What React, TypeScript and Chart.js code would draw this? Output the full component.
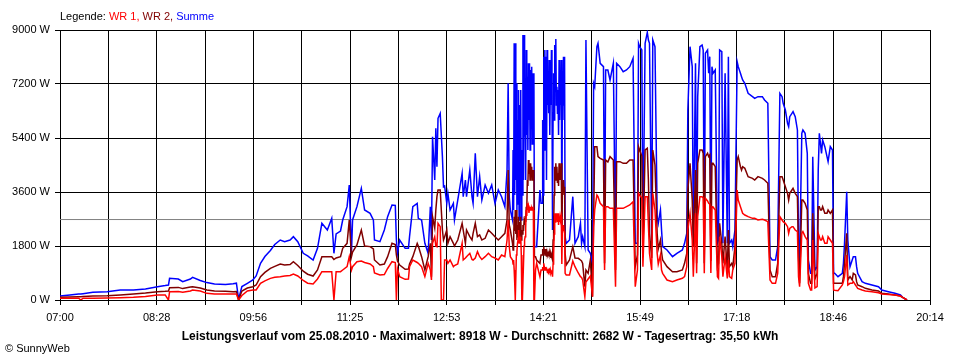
import React, { useEffect, useRef } from 'react';
import { Chart, registerables } from 'chart.js';

Chart.register(...registerables);

// minutes after 07:00
const minutes = [
  0, 9, 17, 19, 21, 30, 43, 55, 67, 78, 89, 96, 99, 100, 108, 112, 119, 121, 128, 134, 141, 151, 158, 161, 163, 166, 171, 176,
  179, 183, 187, 192, 196, 201, 205, 210, 213, 217, 222, 226, 231, 235, 239, 244, 248, 250, 252, 256, 258, 262, 264, 266, 267, 271, 275, 278, 283, 286, 287, 292, 296, 299, 303, 306, 307, 308, 310,
  315, 318, 319, 322, 326, 327, 330, 333, 336, 338, 339, 340, 342, 343, 344, 345, 347, 348, 349, 350, 351, 353, 354, 356, 359, 360, 363, 367, 368, 370, 371, 374, 376, 377, 379, 381, 383, 385, 388, 391, 394, 397, 400, 403, 406, 408, 409, 410, 411,
  413, 413.5, 414, 414.5, 415, 415.5, 416, 416.5, 417, 417.5, 418, 418.5, 419, 419.5, 420, 420.5, 421, 421.5, 422, 422.5, 423, 423.5, 424, 424.5, 425, 425.5, 426, 426.5, 427, 427.5, 428, 428.5, 429, 429.5, 430, 430.5, 431, 431.5, 432, 432.5, 433, 434, 435,
  438, 439, 440, 440.5, 441, 441.5, 442, 442.5, 443, 443.5, 444, 444.5, 445, 445.5, 446, 446.5, 447, 447.5, 448, 448.5, 449, 449.5, 450, 450.5, 451, 451.5, 452, 452.5, 453, 453.5, 454, 454.5, 455, 455.5, 456, 456.5, 457, 457.5, 458, 458.5, 459, 459.5, 460, 460.5, 461, 462,
  465, 468, 470, 473, 475, 476, 477, 479, 480, 482, 484, 486, 487, 488, 490, 491, 493, 496, 497, 498, 500, 502, 505, 507, 508, 511, 514, 517, 520, 523, 525, 527, 528, 529, 531, 532, 534, 536, 537, 538, 540, 541, 543, 545, 546, 548, 549, 550, 554, 559, 563, 568, 570, 572, 573, 575,
  577, 578, 580, 581, 582, 584, 586, 587, 588, 589, 591, 592, 593, 594, 595, 596, 598,
  600, 601, 602, 604, 605, 607, 609, 610, 611, 613, 614, 616, 618, 619, 621, 622, 623, 625, 628, 632, 634, 637, 641, 643, 646, 648, 650, 653, 655, 657, 659, 660, 662, 664, 665, 666, 668, 669, 671, 673, 674, 675, 677, 678, 680, 682, 683, 685, 686, 687, 689, 691, 692, 693, 694, 695, 696, 698, 700, 701, 703, 705, 706, 707, 710, 714, 715, 716, 718, 719, 721, 723, 724, 726, 727, 728, 732, 735, 741, 747, 750, 756, 762, 767, 769, 773,
];

const summe = [
  133, 170, 200, 200, 210, 256, 278, 333, 333, 370, 444, 480, 500, 722, 700, 611, 700, 756, 650, 580, 530, 520, 540, 560, 30, 450, 556, 667,
  800, 1222, 1450, 1650, 1850, 2000, 1944, 2000, 2111, 1944, 1556, 1470, 1333, 1722, 2556, 2333, 2722, 1556, 2200, 2300, 2667, 3111, 3833, 1556, 2667, 3111, 3722, 3000, 2889, 2667, 2000, 1944, 2333, 2778, 3167, 3150, 2000, 1556, 2000,
  1722, 1722, 2111, 3111, 3222, 2722, 2667, 1889, 1556, 3111, 2000, 5444, 4000, 5722, 4444, 6056, 6222, 5500, 4778, 3778, 3800, 3222, 3556, 3000, 3222, 2667, 3333, 4222, 3444, 4000, 3444, 4333, 3444, 3222, 4889, 3444, 4111, 3333, 3833, 3556, 3833, 3222, 3667, 3444, 3111, 4333, 7222, 3444, 3000,
  2667, 5000, 3000, 8556, 3500, 8556, 4000, 7222, 3000, 6000, 3200, 7000, 2667, 6500, 3500, 7000, 2667, 5000, 3500, 8833, 4000, 8833, 5444, 6000, 4000, 8333, 5500, 7444, 5000, 7889, 6000, 7889, 5000, 7667, 6500, 7778, 5200, 7556, 6000, 7556, 1778, 1778, 1778,
  3667, 3222, 3222, 6000, 3500, 8111, 5000, 8333, 6000, 8111, 4000, 8333, 6500, 7222, 6222, 8000, 5500, 7222, 6500, 8333, 7000, 2333, 6222, 7556, 6000, 8500, 7000, 8700, 6500, 7111, 6200, 7000, 5500, 8000, 6000, 7500, 6500, 8000, 2333, 7000, 6000, 8111, 6500, 8111, 2111, 1889,
  2000, 3444, 1889, 2111, 2556, 1889, 2111, 1778, 8667, 1667, 1556, 1222, 7222, 7111, 8444, 8556, 7889, 7778, 1889, 7667, 7667, 7333, 7889, 1778, 7889, 7778, 7611, 7667, 7778, 8056, 1889, 1889, 8556, 8444, 8333, 1889, 8556, 8918, 8667, 8556, 1889, 8667, 8444, 2778, 2556, 3000, 2333, 1778, 1667, 1444, 1556, 1667, 1889, 2222, 6333, 8444,
  7778, 1889, 7889, 1889, 6778, 8444, 8500, 8333, 1889, 8222, 8333, 7556, 8111, 2000, 7778, 7556, 7667,
  1889, 2000, 8333, 8278, 1889, 7556, 1889, 8111, 1889, 2000, 1778, 2333, 7944, 7778, 7556, 7444, 7333, 7222, 6889, 6778, 6722, 6778, 6778, 6667, 6556, 1444, 1333, 1333, 1778, 6889, 6778, 6556, 6333, 5889, 5778, 6111, 6222, 6278, 6111, 5667, 1889, 1222, 5556, 5667, 5556, 4889, 1333, 889, 889, 4778, 1000, 1111, 4333, 5556, 5222, 4889, 5333, 5111, 4778, 4611, 5111, 5000, 889, 889, 778, 889, 1222, 1889, 3611, 2000, 1111, 1333, 1444, 1444, 1111, 889, 611, 556, 500, 444, 333, 278, 222, 167, 89, 0,
];

const wr2 = [
  89, 100, 110, 110, 115, 130, 140, 170, 200, 230, 278, 290, 300, 411, 420, 380, 430, 444, 400, 333, 300, 290, 278, 280, 0, 300, 400, 444,
  500, 778, 920, 1056, 1120, 1200, 1167, 1180, 1278, 1150, 960, 860, 800, 1000, 1444, 1440, 1444, 1350, 1400, 1444, 1722, 1889, 2667, 1444, 1600, 1833, 2333, 1800, 1780, 1700, 1333, 1167, 1200, 1444, 1889, 1850, 1500, 1300, 1167,
  1022, 1030, 1200, 1444, 1889, 1800, 1444, 1000, 1444, 1889, 778, 2778, 2400, 3000, 3444, 3667, 3667, 3000, 2333, 2000, 2100, 2333, 1889, 2111, 1889, 1800, 2000, 2556, 2333, 1889, 2333, 2111, 2000, 2222, 2556, 2111, 2167, 2000, 2056, 2333, 2222, 2111, 2000, 2111, 2222, 2667, 4333, 2500, 2333,
  1889, 1667, 2000, 2778, 2300, 3000, 2200, 3000, 2000, 2500, 2111, 2778, 2000, 2600, 2200, 2778, 2000, 2333, 2200, 2500, 2300, 2600, 2500, 2800, 2600, 3111, 3000, 4000, 3800, 4667, 4200, 4556, 4000, 4556, 4200, 4444, 4000, 4333, 4200, 4333, 1444, 1444, 1333,
  1222, 1500, 1500, 1700, 1500, 1778, 1600, 1700, 1500, 1700, 1444, 1600, 1500, 1556, 1500, 1600, 1450, 1556, 1400, 1500, 1400, 1333, 2000, 2500, 3500, 4444, 4000, 4556, 4000, 4444, 3900, 4222, 3800, 4556, 4000, 4400, 4000, 4556, 1800, 3800, 3500, 4000, 3600, 3778, 1556, 1167,
  1333, 1778, 1400, 1389, 1333, 1300, 1222, 444, 1000, 889, 1333, 111, 2667, 5111, 5111, 4778, 4722, 4667, 1222, 4667, 4600, 4778, 4667, 1000, 4611, 4611, 4556, 4556, 4667, 4667, 1111, 1500, 5111, 5000, 4800, 1556, 5000, 5056, 4000, 2222, 1400, 5000, 4500, 2222, 1700, 2000, 1600, 1333, 1111, 944, 944, 1000, 1222, 1556, 3667, 4556,
  3333, 1778, 4333, 1222, 4556, 5000, 5000, 4889, 1222, 4778, 4889, 4778, 4833, 1300, 4556, 4556, 4444,
  1111, 1222, 2556, 1889, 1222, 2111, 1000, 2333, 1111, 1222, 1111, 1778, 4667, 4778, 4444, 4333, 4444, 4389, 4111, 4056, 4000, 4111, 4056, 4000, 3889, 1000, 778, 778, 1222, 4111, 4111, 4000, 3778, 3556, 3333, 3556, 3667, 3722, 3556, 3444, 1444, 556, 3333, 3333, 3222, 3000, 889, 556, 556, 2889, 700, 889, 3111, 3111, 3000, 3000, 3111, 2889, 2889, 3000, 2889, 3000, 556, 556, 556, 556, 778, 1222, 2222, 667, 778, 667, 889, 833, 611, 500, 444, 389, 333, 300, 222, 200, 167, 133, 89, 0,
];

const wr1 = [
  56, 60, 60, 0, 60, 60, 65, 78, 89, 120, 167, 170, 0, 278, 280, 260, 300, 333, 300, 222, 200, 200, 200, 200, 0, 150, 300, 333,
  333, 556, 640, 722, 760, 778, 800, 820, 867, 800, 650, 560, 533, 700, 944, 940, 944, 0, 944, 944, 1000, 1111, 1444, 1000, 1111, 1278, 1300, 1250, 1200, 1111, 900, 833, 850, 1050, 1278, 1250, 0, 1050, 778,
  689, 700, 1111, 1333, 1250, 1222, 1111, 778, 1222, 1000, 667, 1889, 2111, 1800, 1778, 2556, 2444, 0, 0, 0, 1333, 1333, 1222, 1333, 1111, 1150, 1200, 1889, 1333, 1400, 1444, 1556, 1350, 1333, 1400, 1611, 1444, 1350, 1444, 1556, 1444, 1400, 1333, 1500, 1444, 2000, 2667, 1800, 1444,
  1333, 1200, 1333, 1000, 556, 0, 0, 1500, 1600, 1889, 2000, 2333, 1900, 2111, 2000, 2111, 1500, 0, 0, 0, 1200, 1800, 2000, 2111, 2400, 3000, 2800, 3222, 3000, 3111, 2900, 3056, 3000, 3111, 3000, 3056, 3000, 3111, 3000, 0, 0, 1000, 1222,
  778, 1000, 1000, 1100, 1000, 1222, 1100, 1000, 1000, 1100, 1000, 1000, 900, 1000, 950, 1000, 900, 1000, 900, 950, 900, 778, 1200, 1500, 2200, 2889, 2600, 2889, 2700, 2889, 2600, 2889, 2500, 2778, 2600, 2800, 2700, 2778, 1200, 2500, 2300, 2500, 2300, 2222, 889, 833,
  833, 1300, 1111, 900, 778, 750, 667, 111, 600, 700, 800, 111, 2444, 3000, 3500, 3444, 3222, 3111, 1000, 3111, 3111, 3056, 3056, 444, 3056, 3056, 3056, 3111, 3167, 3278, 444, 1000, 3556, 3500, 3400, 1111, 3444, 3444, 2500, 1556, 1000, 3556, 3000, 1556, 1200, 1500, 1000, 889, 667, 611, 667, 722, 778, 1111, 2333, 2889,
  2000, 778, 2889, 889, 2778, 3444, 3444, 3400, 889, 3389, 3300, 3222, 3200, 900, 3111, 3100, 3000,
  778, 722, 2111, 1444, 778, 1444, 722, 1333, 778, 722, 1000, 1222, 3667, 3333, 3111, 3000, 2889, 2833, 2778, 2722, 2722, 2667, 2689, 2667, 2611, 667, 556, 556, 889, 2778, 2667, 2611, 2556, 2444, 2222, 2389, 2444, 2444, 2333, 2278, 778, 444, 2222, 2278, 2111, 2000, 556, 333, 333, 2000, 400, 444, 2222, 2111, 2000, 2000, 2111, 1889, 1889, 2111, 2000, 1889, 333, 322, 311, 500, 611, 778, 1500, 500, 556, 556, 611, 500, 444, 389, 333, 300, 278, 240, 200, 180, 167, 133, 89, 0,
];

const xTickLabels = ['07:00', '08:28', '09:56', '11:25', '12:53', '14:21', '15:49', '17:18', '18:46', '20:14'];
const spanMinutes = 794;
const gridDivisions = 18;
const yMax = 9000;
const yStep = 1800;
const averageW = 2682;
const titleText = 'Leistungsverlauf vom 25.08.2010 - Maximalwert: 8918 W - Durchschnitt: 2682 W - Tagesertrag: 35,50 kWh';
const copyrightText = '\u00A9 SunnyWeb';
const legendParts: [string, string][] = [
  ['Legende: ', '#000000'],
  ['WR 1, ', '#ff0000'],
  ['WR 2, ', '#800000'],
  ['Summe', '#0000ff'],
];

const FONT = '"Liberation Sans", Arial, sans-serif';

const textPlugin = {
  id: 'sunnyText',
  afterDraw(chart: any) {
    const ctx = chart.ctx as CanvasRenderingContext2D;
    ctx.save();
    ctx.textBaseline = 'middle';
    ctx.textAlign = 'left';
    ctx.font = `11px ${FONT}`;
    let x = chart.chartArea.left;
    for (const [t, c] of legendParts) {
      ctx.fillStyle = c;
      ctx.fillText(t, x, 17);
      x += ctx.measureText(t).width;
    }
    ctx.fillStyle = '#000';
    ctx.font = `bold 12px ${FONT}`;
    ctx.textAlign = 'center';
    ctx.fillText(titleText, 480, 337);
    ctx.font = `11px ${FONT}`;
    ctx.textAlign = 'left';
    ctx.fillText(copyrightText, 5, 349);
    ctx.restore();
  },
};

function series(values: number[]) {
  return minutes.map((m, i) => ({ x: m, y: values[i] }));
}

export default function App() {
  const ref = useRef<HTMLCanvasElement | null>(null);
  useEffect(() => {
    if (!ref.current) return;
    const lineW = 1.5;
    const chart = new Chart(ref.current, {
      type: 'line',
      data: {
        datasets: [
          { label: 'WR 1', data: series(wr1), borderColor: '#ff0000', borderWidth: lineW, pointRadius: 0, tension: 0 },
          { label: 'WR 2', data: series(wr2), borderColor: '#800000', borderWidth: lineW, pointRadius: 0, tension: 0 },
          { label: 'Summe', data: series(summe), borderColor: '#0000ff', borderWidth: lineW, pointRadius: 0, tension: 0 },
          {
            label: 'Durchschnitt',
            data: [{ x: 0, y: averageW }, { x: spanMinutes, y: averageW }],
            borderColor: '#808080',
            borderWidth: 1,
            pointRadius: 0,
          },
        ],
      },
      options: {
        responsive: false,
        animation: false,
        events: [],
        layout: { padding: { top: 30, right: 30, left: 0, bottom: 0 } },
        plugins: { legend: { display: false }, tooltip: { enabled: false }, title: { display: false } },
        scales: {
          x: {
            type: 'linear',
            min: 0,
            max: spanMinutes,
            afterBuildTicks: (scale: any) => {
              const t = [];
              for (let i = 0; i <= gridDivisions; i++) t.push({ value: (i * spanMinutes) / gridDivisions });
              scale.ticks = t;
            },
            afterFit: (scale: any) => {
              scale.height = 60;
            },
            ticks: {
              autoSkip: false,
              maxRotation: 0,
              minRotation: 0,
              padding: 6,
              color: '#000',
              font: { family: FONT, size: 11 },
              callback: (_v: any, i: number) => (i % 2 === 0 ? xTickLabels[i / 2] : ''),
            },
            grid: { color: '#000', lineWidth: 1, tickLength: 5, drawTicks: true },
            border: { display: true, color: '#000', width: 1 },
          },
          y: {
            min: 0,
            max: yMax,
            afterFit: (scale: any) => {
              scale.width = 60;
            },
            ticks: {
              stepSize: yStep,
              padding: 5,
              color: '#000',
              font: { family: FONT, size: 11 },
              callback: (v: any) => `${v} W`,
            },
            grid: { color: '#000', lineWidth: 1, tickLength: 5, drawTicks: true },
            border: { display: true, color: '#000', width: 1 },
          },
        },
      },
      plugins: [textPlugin],
    });
    return () => chart.destroy();
  }, []);
  return (
    <div style={{ position: 'absolute', left: 0, top: 0, width: 960, height: 360, background: '#fff' }}>
      <canvas ref={ref} width={960} height={360} />
    </div>
  );
}
